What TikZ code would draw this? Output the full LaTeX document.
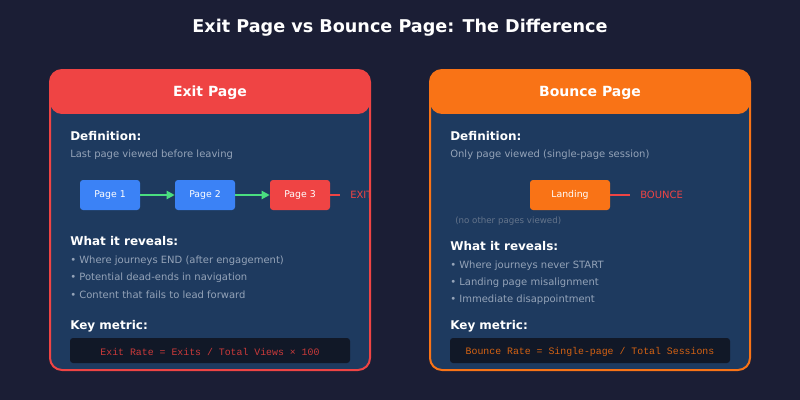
\documentclass[tikz,border=0pt]{standalone}
\usepackage{fontspec}
\setmainfont{DejaVu Sans}
\newfontfamily\monof{Liberation Mono}
\usetikzlibrary{arrows.meta}
\definecolor{bg}{HTML}{1B1E35}
\definecolor{panel}{HTML}{1E3A5F}
\definecolor{redc}{HTML}{EF4444}
\definecolor{orc}{HTML}{F97316}
\definecolor{bluec}{HTML}{3B82F6}
\definecolor{greenc}{HTML}{4ADE80}
\definecolor{grayc}{HTML}{94A3B8}
\definecolor{dimc}{HTML}{64748B}
\definecolor{codebg}{HTML}{111827}
\tikzset{
 x=0.75pt,y=-0.75pt,
 fs/.style={font=\fontsize{#1}{#1}\selectfont},
 lbl/.style={anchor=west,inner sep=0pt,text=white,font=\fontsize{9}{9}\selectfont\bfseries},
 txt/.style={anchor=west,inner sep=0pt,text=grayc,font=\fontsize{7.5}{7.5}\selectfont},
 pagebox/.style={rounded corners=2.25pt,text=white,minimum width=45pt,minimum height=22.5pt,font=\fontsize{7}{7}\selectfont,inner sep=0pt},
 code/.style={text=#1,font=\fontsize{7.4}{7.4}\selectfont\monof},
}
\begin{document}
\begin{tikzpicture}
\fill[bg] (0,0) rectangle (800,400);
\useasboundingbox (0,0) rectangle (800,400);
\node[text=white,font=\fontsize{13.2}{13.2}\selectfont\bfseries] (title) at (400,28) {Exit Page vs Bounce Page: The Difference};
% left panel
\fill[panel,rounded corners=9pt] (50,70) rectangle (370,370);
\fill[redc,rounded corners=9pt] (50,70) rectangle (370,114);
\fill[panel] (51,114) rectangle (369,124);
\draw[redc,line width=1.5pt,rounded corners=9pt] (50,70) rectangle (370,370);
\node[text=white,font=\fontsize{10.5}{10.5}\selectfont\bfseries] (lh) at (210,93) {Exit Page};
\node[lbl] (ld) at (70,136) {Definition:};
\node[txt] (ldt) at (70,155) {Last page viewed before leaving};
\node[pagebox,fill=bluec] (p1) at (110,195) {Page 1};
\node[pagebox,fill=bluec] (p2) at (205,195) {Page 2};
\node[pagebox,fill=redc] (p3) at (300,195) {Page 3};
\draw[greenc,line width=1.5pt,-{Triangle[length=6pt,width=6pt]}] (p1) -- (p2);
\draw[greenc,line width=1.5pt,-{Triangle[length=6pt,width=6pt]}] (p2) -- (p3);
\begin{scope}
\clip (50,70) rectangle (369,370);
\node[anchor=west,text=redc,fs=7.5,inner sep=0pt] (exit) at (350,195) {EXIT};
\end{scope}
\draw[redc,line width=1.5pt] (p3.east) -- (340,195);
\node[lbl] (lw) at (70,241) {What it reveals:};
\node[txt] (lb1) at (70,261) {• Where journeys END (after engagement)};
\node[txt] (lb2) at (70,278) {• Potential dead-ends in navigation};
\node[txt] (lb3) at (70,295) {• Content that fails to lead forward};
\node[lbl] (lk) at (70,326) {Key metric:};
\fill[codebg,rounded corners=2.25pt] (70,338) rectangle (350,363);
\node[code=redc!85!black] (lc) at (210,352) {Exit Rate = Exits / Total Views × 100};
% right panel
\fill[panel,rounded corners=9pt] (430,70) rectangle (750,370);
\fill[orc,rounded corners=9pt] (430,70) rectangle (750,114);
\fill[panel] (431,114) rectangle (749,124);
\draw[orc,line width=1.5pt,rounded corners=9pt] (430,70) rectangle (750,370);
\node[text=white,font=\fontsize{10.5}{10.5}\selectfont\bfseries] (rh) at (590,93) {Bounce Page};
\node[lbl] (rd) at (450,136) {Definition:};
\node[txt] (rdt) at (450,155) {Only page viewed (single-page session)};
\node[pagebox,fill=orc,minimum width=60pt] (land) at (570,195) {Landing};
\draw[redc,line width=1.5pt] (land.east) -- (630,195);
\node[anchor=west,text=redc,fs=7.5,inner sep=0pt] (bounce) at (640,195) {BOUNCE};
\node[anchor=west,inner sep=0pt,text=dimc,fs=6.5] (none) at (455,221) {(no other pages viewed)};
\node[lbl] (rw) at (450,246) {What it reveals:};
\node[txt] (rb1) at (450,266) {• Where journeys never START};
\node[txt] (rb2) at (450,283) {• Landing page misalignment};
\node[txt] (rb3) at (450,300) {• Immediate disappointment};
\node[lbl] (rk) at (450,326) {Key metric:};
\fill[codebg,rounded corners=2.25pt] (450,338) rectangle (730,363);
\node[code=orc!85!black] (rc) at (590,352) {Bounce Rate = Single-page / Total Sessions};
\end{tikzpicture}
\end{document}
